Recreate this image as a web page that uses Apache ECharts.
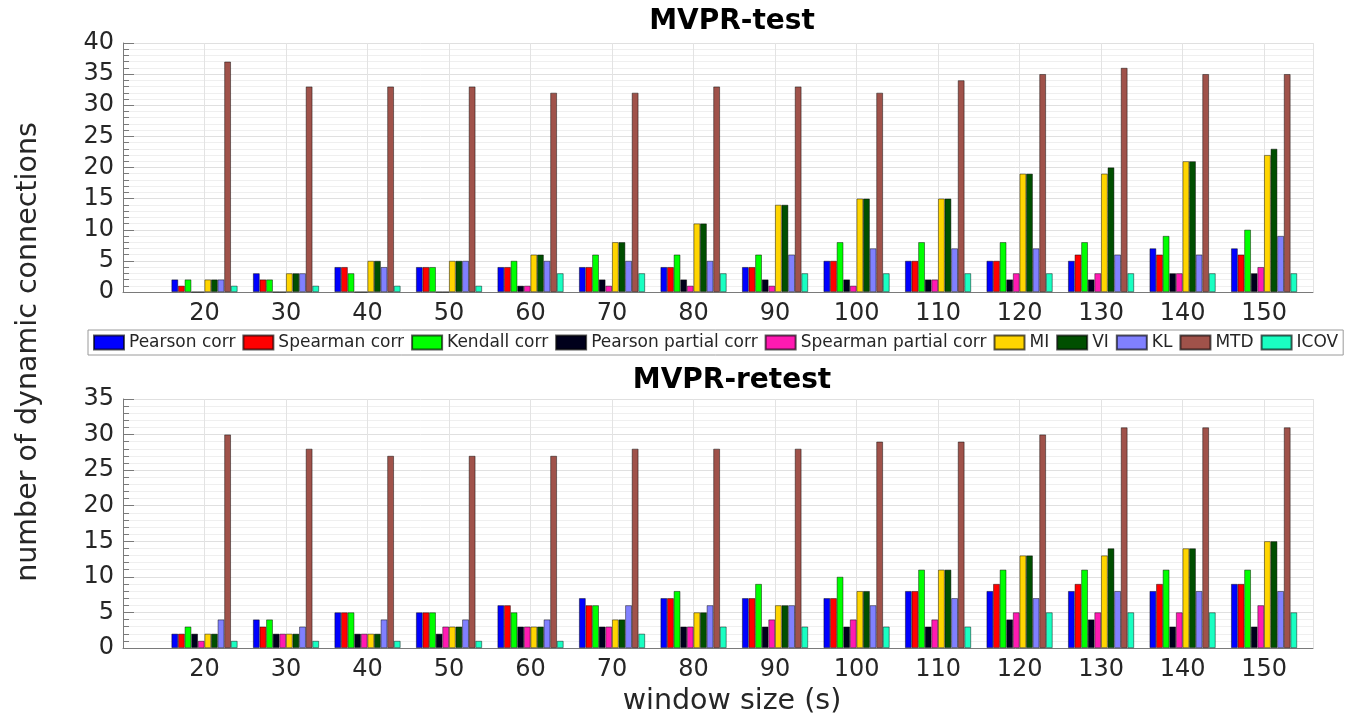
<!DOCTYPE html>
<html><head><meta charset="utf-8">
<script src="https://cdn.jsdelivr.net/npm/echarts@6/dist/echarts.min.js"></script>
<style>html,body{margin:0;padding:0;background:#fff}#c{width:1346px;height:719px}</style>
</head><body><div id="c"></div>
<script>
const windowSizes = [20,30,40,50,60,70,80,90,100,110,120,130,140,150];
const xTickLabels = [20,30,40,50,60,70,80,90,100,110,120,130,140,150];
const methods = ['Pearson corr','Spearman corr','Kendall corr','Pearson partial corr','Spearman partial corr','MI','VI','KL','MTD','ICOV'];
const methodColors = ['#0000FF','#FF0000','#00FF00','#00001C','#FF1AB2','#FFD500','#004F00','#8080FF','#A0524A','#1AFFC2'];

// MVPR-test
const testPearson         = [2,3,4,4,4,4,4,4,5,5,5,5,7,7];
const testSpearman        = [1,2,4,4,4,4,4,4,5,5,5,6,6,6];
const testKendall         = [2,2,3,4,5,6,6,6,8,8,8,8,9,10];
const testPearsonPartial  = [0,0,0,0,1,2,2,2,2,2,2,2,3,3];
const testSpearmanPartial = [0,0,0,0,1,1,1,1,1,2,3,3,3,4];
const testMI              = [2,3,5,5,6,8,11,14,15,15,19,19,21,22];
const testVI              = [2,3,5,5,6,8,11,14,15,15,19,20,21,23];
const testKL              = [2,3,4,5,5,5,5,6,7,7,7,6,6,9];
const testMTD             = [37,33,33,33,32,32,33,33,32,34,35,36,35,35];
const testICOV            = [1,1,1,1,3,3,3,3,3,3,3,3,3,3];

// MVPR-retest
const retestPearson         = [2,4,5,5,6,7,7,7,7,8,8,8,8,9];
const retestSpearman        = [2,3,5,5,6,6,7,7,7,8,9,9,9,9];
const retestKendall         = [3,4,5,5,5,6,8,9,10,11,11,11,11,11];
const retestPearsonPartial  = [2,2,2,2,3,3,3,3,3,3,4,4,3,3];
const retestSpearmanPartial = [1,2,2,3,3,3,3,4,4,4,5,5,5,6];
const retestMI              = [2,2,2,3,3,4,5,6,8,11,13,13,14,15];
const retestVI              = [2,2,2,3,3,4,5,6,8,11,13,14,14,15];
const retestKL              = [4,3,4,4,4,6,6,6,6,7,7,8,8,8];
const retestMTD             = [30,28,27,27,27,28,28,28,29,29,30,31,31,31];
const retestICOV            = [1,1,1,1,1,2,3,3,3,3,5,5,5,5];

const testSets = [testPearson,testSpearman,testKendall,testPearsonPartial,testSpearmanPartial,testMI,testVI,testKL,testMTD,testICOV];
const retestSets = [retestPearson,retestSpearman,retestKendall,retestPearsonPartial,retestSpearmanPartial,retestMI,retestVI,retestKL,retestMTD,retestICOV];

const FONT = 'DejaVu Sans';
const TXT = '#262626';
const AX = '#7a7a7a';

function xAxisCfg(g){
  return {type:'value', gridIndex:g, min:10, max:156, interval:10,
    axisLine:{show:true, onZero:false, lineStyle:{color:AX, width:1}},
    axisTick:{show:false},
    axisLabel:{fontSize:24, color:TXT, fontFamily:FONT, margin:10,
      formatter:v => xTickLabels.indexOf(v) >= 0 ? String(v) : ''},
    splitLine:{show:true, lineStyle:{color:'#e3e3e3', width:1}}
  };
}
function yAxisCfg(g, max){
  return {type:'value', gridIndex:g, min:0, max:max, interval:5,
    axisLine:{show:true, lineStyle:{color:AX, width:1}},
    axisTick:{show:true, inside:true, length:11, lineStyle:{color:AX}},
    minorTick:{show:true, splitNumber:5, length:6, lineStyle:{color:AX}},
    splitLine:{show:true, lineStyle:{color:'#e0e0e0'}},
    minorSplitLine:{show:true, lineStyle:{color:'#efefef'}},
    axisLabel:{fontSize:24, color:TXT, fontFamily:FONT, margin:9}
  };
}
const series = [];
[testSets, retestSets].forEach((sets, g) => {
  sets.forEach((arr, m) => {
    series.push({
      type:'bar', name:methods[m], xAxisIndex:g, yAxisIndex:g,
      data: windowSizes.map((w,i) => [w, arr[i]]),
      barWidth:6.6, barGap:'0%',
      itemStyle:{color:methodColors[m], borderColor:'rgba(0,0,0,0.65)', borderWidth:0.7},
      emphasis:{disabled:true}
    });
  });
});

const chart = echarts.init(document.getElementById('c'), null, {renderer:'canvas'});
chart.setOption({
  animation:false,
  textStyle:{fontFamily:FONT},
  grid:[
    {left:123, top:43, width:1190, height:249},
    {left:123, top:399, width:1190, height:249}
  ],
  xAxis:[xAxisCfg(0), xAxisCfg(1)],
  yAxis:[yAxisCfg(0,40), yAxisCfg(1,35)],
  legend:{data:methods, left:88, top:330, itemWidth:30, itemHeight:14, itemGap:7,
    padding:[4,5], borderColor:'#9a9a9a', borderWidth:1, icon:'rect',
    textStyle:{fontSize:17, color:TXT, fontFamily:FONT}},
  graphic:[
    {type:'text', x:732, y:22, style:{text:'MVPR-test', fontSize:28, fontWeight:'bold', fill:'#000', fontFamily:FONT, align:'center', verticalAlign:'middle', textAlign:'center', textVerticalAlign:'middle'}},
    {type:'text', x:732, y:381, style:{text:'MVPR-retest', fontSize:28, fontWeight:'bold', fill:'#000', fontFamily:FONT, align:'center', verticalAlign:'middle', textAlign:'center', textVerticalAlign:'middle'}},
    {type:'text', x:732, y:702, style:{text:'window size (s)', fontSize:28.5, fill:TXT, fontFamily:FONT, align:'center', verticalAlign:'middle', textAlign:'center', textVerticalAlign:'middle'}},
    {type:'text', x:29, y:352, rotation:Math.PI/2, style:{text:'number of dynamic connections', fontSize:28.5, fill:TXT, fontFamily:FONT, align:'center', verticalAlign:'middle', textAlign:'center', textVerticalAlign:'middle'}}
  ],
  series:series
});
</script></body></html>
